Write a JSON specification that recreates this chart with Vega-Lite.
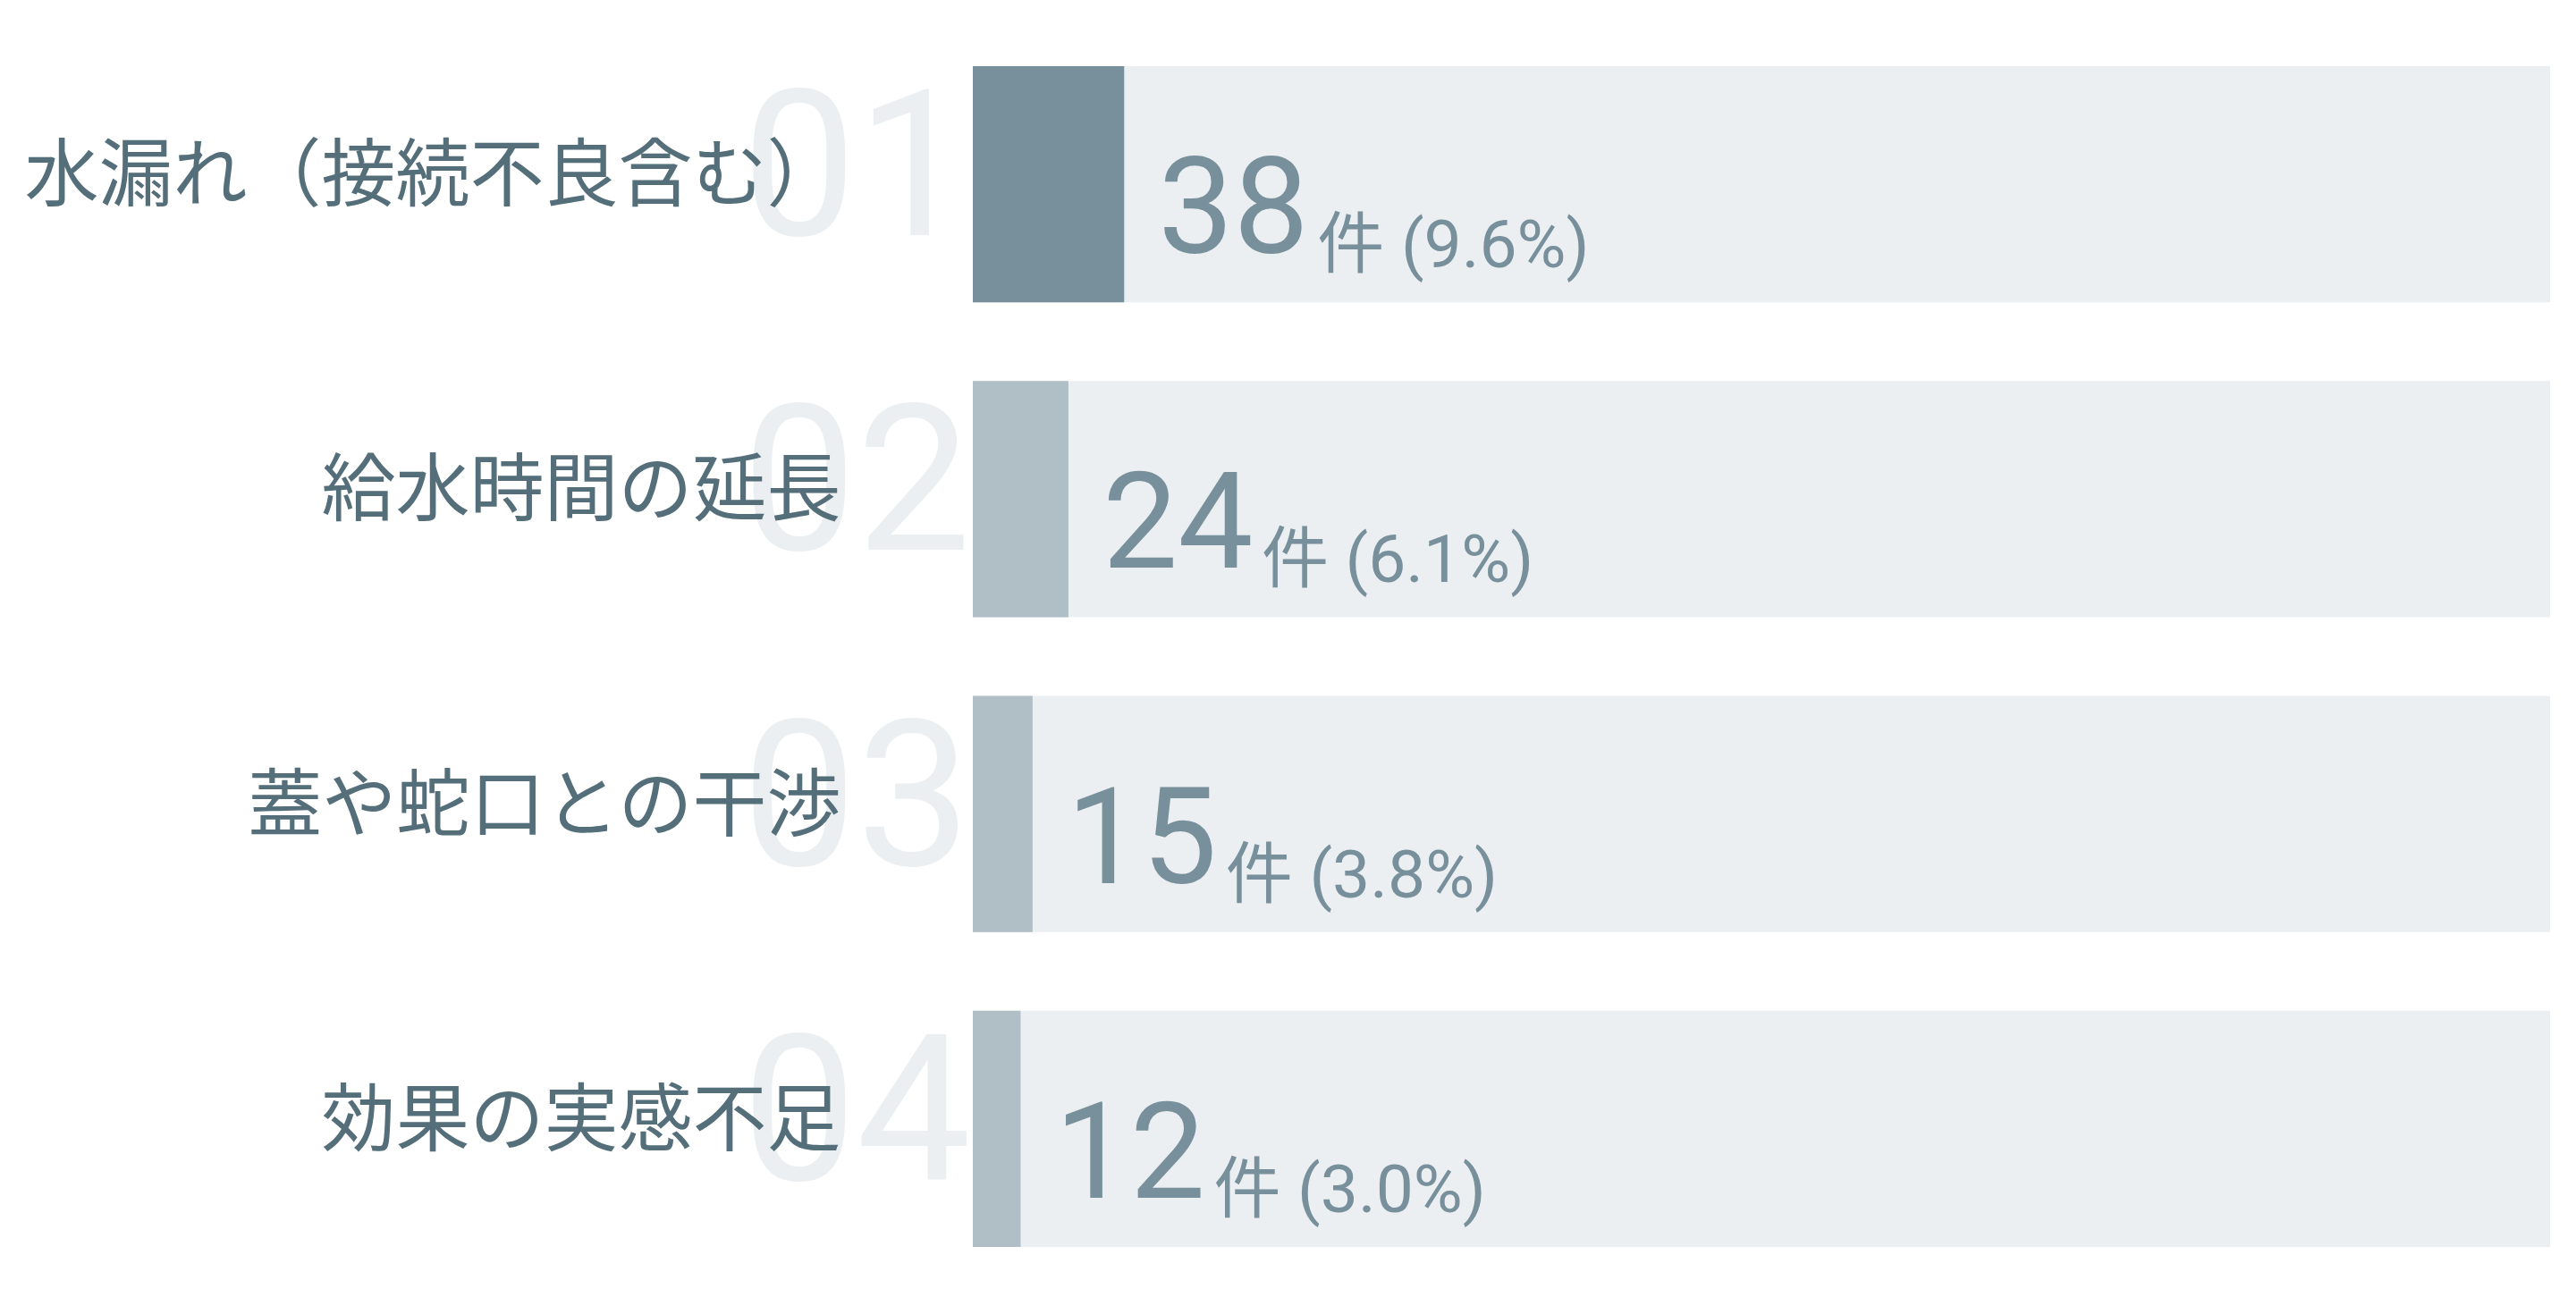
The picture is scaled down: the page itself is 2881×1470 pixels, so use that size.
{
  "$schema": "https://vega.github.io/schema/vega-lite/v6.json",
  "width": 1764,
  "height": 1409,
  "autosize": {"type": "none"},
  "padding": {"left": 1088, "top": 30, "right": 29, "bottom": 31},
  "background": "#ffffff",
  "config": {"view": {"stroke": null}},
  "data": {
    "values": [
      {"rank": "01", "label": "水漏れ（接続不良含む）", "count": 38, "caption": "件 (9.6%)", "total": 396},
      {"rank": "02", "label": "給水時間の延長", "count": 24, "caption": "件 (6.1%)", "total": 396},
      {"rank": "03", "label": "蓋や蛇口との干渉", "count": 15, "caption": "件 (3.8%)", "total": 396},
      {"rank": "04", "label": "効果の実感不足", "count": 12, "caption": "件 (3.0%)", "total": 396}
    ]
  },
  "encoding": {
    "y": {
      "field": "label",
      "type": "nominal",
      "sort": null,
      "scale": {"paddingInner": 0.25, "paddingOuter": 0.125},
      "axis": {
        "title": null,
        "domain": false,
        "ticks": false,
        "labelFont": "Noto Sans CJK JP",
        "labelFontSize": 83,
        "labelColor": "#546e7a",
        "labelPadding": 148,
        "labelOffset": -7,
        "labelLimit": 0,
        "zindex": 1
      }
    }
  },
  "layer": [
    {
      "mark": {"type": "bar", "color": "#eceff1"},
      "encoding": {
        "x": {"field": "total", "type": "quantitative", "scale": {"domain": [0, 396], "nice": false}, "axis": null}
      }
    },
    {
      "mark": {"type": "bar"},
      "encoding": {
        "x": {"field": "count", "type": "quantitative"},
        "color": {
          "condition": {"test": "datum.rank === '01'", "value": "#78909c"},
          "value": "#b0bec5"
        }
      }
    },
    {
      "mark": {
        "type": "text",
        "font": "Roboto",
        "fontWeight": 400,
        "fontSize": 228,
        "color": "#eceff1",
        "align": "right",
        "baseline": "alphabetic",
        "dx": -2,
        "dy": 57
      },
      "encoding": {
        "x": {"datum": 0},
        "text": {"field": "rank"}
      }
    },
    {
      "mark": {
        "type": "text",
        "font": "Roboto, Noto Sans CJK JP",
        "fontWeight": 400,
        "fontSize": 150,
        "color": "#78909c",
        "align": "left",
        "baseline": "alphabetic",
        "dx": 38,
        "dy": 77
      },
      "encoding": {
        "x": {"field": "count", "type": "quantitative"},
        "text": {"field": "count"}
      }
    },
    {
      "mark": {
        "type": "text",
        "font": "Roboto, Noto Sans CJK JP",
        "fontWeight": 400,
        "fontSize": 75,
        "color": "#78909c",
        "align": "left",
        "baseline": "alphabetic",
        "dx": 216,
        "dy": 93
      },
      "encoding": {
        "x": {"field": "count", "type": "quantitative"},
        "text": {"field": "caption"}
      }
    }
  ]
}
